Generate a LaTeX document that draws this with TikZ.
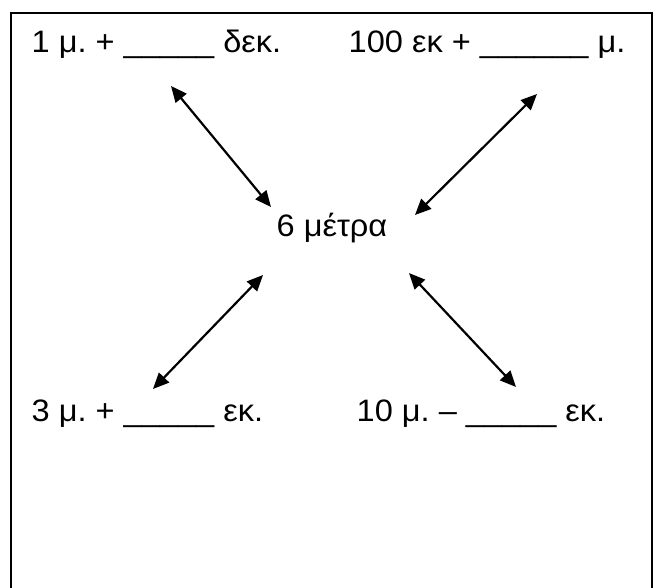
\documentclass[tikz,border=0pt]{standalone}
\usepackage{fontspec}
\setmainfont[FakeStretch=1.05]{Liberation Sans}
\usetikzlibrary{arrows.meta}
\begin{document}
\frenchspacing
\begin{tikzpicture}[x=1pt,y=-1pt,
  lbl/.style={anchor=base west,inner sep=0pt,font=\fontsize{31}{36}\selectfont},
  dbl/.style={line width=2.2pt,{Triangle[length=16pt,width=14pt]}-{Triangle[length=16pt,width=14pt]}},
  frame/.style={line width=1.8pt}]
\useasboundingbox (0,0) rectangle (657,588);
\draw[frame] (11,600) -- (11,13) -- (652,13) -- (652,600);
\node[lbl] (tl) at (31.5,53) {1 μ. + \_\_\_\_\_ δεκ.};
\node[lbl] (tr) at (348.5,53) {100 εκ + \_\_\_\_\_\_ μ.};
\node[lbl] (c) at (276.5,237) {6 μέτρα};
\node[lbl] (bl) at (31.5,422) {3 μ. + \_\_\_\_\_ εκ.};
\node[lbl] (br) at (356.5,422) {10 μ. – \_\_\_\_\_ εκ.};
\coordinate (a1s) at (171,86);  \coordinate (a1e) at (271,207);
\coordinate (a2s) at (537,94);  \coordinate (a2e) at (415,215);
\coordinate (a3s) at (263,275); \coordinate (a3e) at (153,389);
\coordinate (a4s) at (409,273); \coordinate (a4e) at (516,387);
\draw[dbl] (a1s) -- (a1e);
\draw[dbl] (a2s) -- (a2e);
\draw[dbl] (a3s) -- (a3e);
\draw[dbl] (a4s) -- (a4e);
\end{tikzpicture}
\end{document}
